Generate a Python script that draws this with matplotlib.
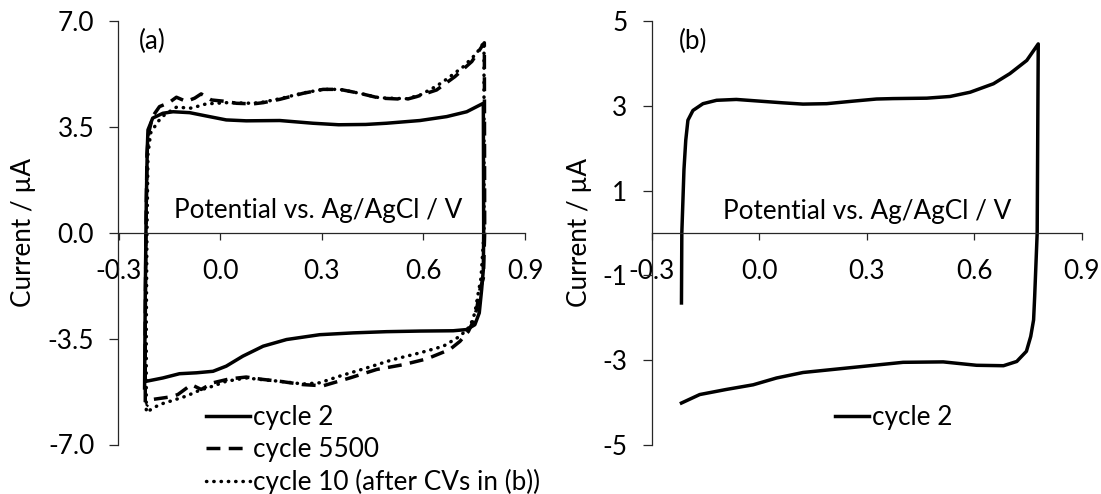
import matplotlib
matplotlib.use("Agg")
import matplotlib.pyplot as plt

plt.rcParams['font.family'] = ['Lato', 'DejaVu Sans']

# ---------------- data: panel (a) ----------------
a_c2_x = [-0.223, -0.221, -0.218, -0.215, -0.213, -0.199, -0.169, -0.139, -0.090, -0.041,
          0.018, 0.077, 0.176, 0.274, 0.350, 0.430, 0.491, 0.590, 0.669, 0.728, 0.777,
          0.778, 0.777, 0.772, 0.765, 0.752, 0.728, 0.688, 0.590, 0.491, 0.393, 0.294,
          0.196, 0.127, 0.067, 0.018, -0.021, -0.070, -0.120, -0.169, -0.218]
a_c2_y = [-5.13, -2.00, 1.00, 2.80, 3.40, 3.79, 3.95, 4.00, 3.97, 3.86,
          3.73, 3.70, 3.71, 3.62, 3.57, 3.58, 3.62, 3.71, 3.84, 4.00, 4.28,
          0.00, -1.22, -1.88, -2.65, -3.04, -3.20, -3.24, -3.25, -3.27, -3.31, -3.37,
          -3.53, -3.75, -4.08, -4.41, -4.58, -4.63, -4.66, -4.80, -4.91]

a_c5500_x = [-0.221, -0.221, -0.219, -0.216, -0.211, -0.199, -0.179, -0.151, -0.129, -0.100,
             -0.075, -0.056, -0.026, 0.018, 0.048, 0.097, 0.127, 0.176, 0.245, 0.304,
             0.353, 0.412, 0.471, 0.550, 0.580, 0.639, 0.693, 0.743, 0.780,
             0.781, 0.777, 0.767, 0.757, 0.747, 0.733, 0.708, 0.678, 0.610, 0.541,
             0.462, 0.383, 0.304, 0.245, 0.176, 0.127, 0.077, 0.028, -0.021, -0.056,
             -0.085, -0.125, -0.149, -0.199, -0.218]
a_c5500_y = [-5.60, -3.00, 0.00, 2.60, 3.30, 3.85, 4.17, 4.30, 4.48, 4.34,
             4.45, 4.59, 4.39, 4.34, 4.28, 4.26, 4.30, 4.41, 4.61, 4.74,
             4.74, 4.61, 4.45, 4.41, 4.50, 4.72, 5.16, 5.66, 6.28,
             0.00, -1.50, -1.88, -2.54, -2.93, -3.26, -3.59, -3.86, -4.17, -4.36,
             -4.52, -4.80, -5.06, -5.02, -4.91, -4.85, -4.77, -4.83, -4.96, -5.18,
             -5.02, -5.35, -5.43, -5.51, -5.73]

a_c10_x = [-0.218, -0.218, -0.216, -0.213, -0.205, -0.184, -0.164, -0.129, -0.085, -0.041,
           0.018, 0.097, 0.127, 0.176, 0.245, 0.304, 0.353, 0.412, 0.471, 0.550,
           0.590, 0.639, 0.669, 0.718, 0.757, 0.779,
           0.779, 0.770, 0.762, 0.752, 0.738, 0.708, 0.659, 0.590, 0.511, 0.432,
           0.353, 0.294, 0.245, 0.176, 0.127, 0.077, 0.018, -0.021, -0.061, -0.100,
           -0.139, -0.179, -0.213]
a_c10_y = [-5.85, -3.00, 0.00, 2.60, 3.30, 3.67, 3.90, 4.15, 4.12, 4.26,
           4.30, 4.28, 4.32, 4.43, 4.62, 4.74, 4.74, 4.61, 4.46, 4.43,
           4.55, 4.85, 5.08, 5.49, 5.93, 6.30,
           0.00, -1.50, -1.99, -2.65, -3.09, -3.42, -3.75, -3.97, -4.19, -4.47,
           -4.74, -4.96, -5.00, -4.91, -4.86, -4.80, -4.91, -5.07, -5.21, -5.40,
           -5.54, -5.68, -5.90]

# ---------------- data: panel (b) ----------------
b_c2_x = [-0.217, -0.216, -0.210, -0.205, -0.199, -0.185, -0.157, -0.119, -0.064, 0.001,
          0.066, 0.122, 0.188, 0.262, 0.327, 0.373, 0.467, 0.532, 0.588, 0.653,
          0.699, 0.746, 0.778,
          0.775, 0.768, 0.765, 0.757, 0.745, 0.718, 0.681, 0.606, 0.513, 0.401,
          0.308, 0.215, 0.122, 0.048, -0.017, -0.092, -0.166, -0.217]
b_c2_y = [-1.65, 0.00, 1.50, 2.19, 2.66, 2.89, 3.05, 3.13, 3.15, 3.11,
          3.07, 3.04, 3.05, 3.11, 3.16, 3.17, 3.18, 3.22, 3.32, 3.52,
          3.76, 4.07, 4.46,
          0.00, -1.50, -2.05, -2.44, -2.79, -3.03, -3.13, -3.12, -3.04, -3.05,
          -3.13, -3.21, -3.29, -3.42, -3.58, -3.69, -3.81, -4.01]

x_ticks = [-0.3, 0.0, 0.3, 0.6, 0.9]
x_ticklabels = ['-0.3', '0.0', '0.3', '0.6', '0.9']
a_y_ticks = [-7.0, -3.5, 0.0, 3.5, 7.0]
a_y_ticklabels = ['-7.0', '-3.5', '0.0', '3.5', '7.0']
b_y_ticks = [-5, -3, -1, 1, 3, 5]
b_y_ticklabels = ['-5', '-3', '-1', '1', '3', '5']

xlabel = 'Potential vs. Ag/AgCl / V'
ylabel = 'Current / µA'
a_legend = ['cycle 2', 'cycle 5500', 'cycle 10 (after CVs in (b))']
b_legend = ['cycle 2']

W, H = 1101, 494
fig = plt.figure(figsize=(W / 100, H / 100), dpi=100)

FS = 18.8
AX_COLOR = '#262626'
LW = 2.5


def px_axes(left, right, top, bottom):
    return [left / W, 1 - bottom / H, (right - left) / W, (bottom - top) / H]


def style_axes(ax, yticks, yticklabels, ylim):
    ax.set_xlim(-0.3, 0.9)
    ax.set_ylim(*ylim)
    for s in ['top', 'right']:
        ax.spines[s].set_visible(False)
    ax.spines['bottom'].set_position(('data', 0))
    ax.spines['left'].set_color(AX_COLOR)
    ax.spines['bottom'].set_color(AX_COLOR)
    ax.spines['left'].set_linewidth(0.9)
    ax.spines['bottom'].set_linewidth(0.9)
    ax.set_xticks(x_ticks)
    ax.set_xticklabels(x_ticklabels)
    ax.set_yticks(yticks)
    ax.set_yticklabels(yticklabels)
    ax.tick_params(axis='x', direction='out', length=5, width=0.9, color=AX_COLOR,
                   pad=14, labelsize=FS)
    ax.tick_params(axis='y', direction='out', length=6.5, width=0.9, color=AX_COLOR,
                   pad=11, labelsize=FS)
    ax.patch.set_visible(False)


# ---------- panel (a) ----------
axa = fig.add_axes(px_axes(118.5, 525, 21, 444.5))
la1, = axa.plot(a_c2_x, a_c2_y, color='black', lw=LW, solid_joinstyle='round')
la2, = axa.plot(a_c5500_x, a_c5500_y, color='black', lw=LW, linestyle=(0, (4.0, 2.4)))
la3, = axa.plot(a_c10_x, a_c10_y, color='black', lw=LW, linestyle=(0, (0.1, 2.0)),
                dash_capstyle='round')
style_axes(axa, a_y_ticks, a_y_ticklabels, (-7, 7))
axa.text(152 / W, 1 - 41 / H, '(a)', transform=fig.transFigure, fontsize=FS,
         ha='center', va='center')
axa.text(318 / W, 1 - 210 / H, xlabel, transform=fig.transFigure, fontsize=FS,
         ha='center', va='center')
fig.text(24 / W, 1 - 232 / H, ylabel, rotation=90, fontsize=FS, ha='center', va='center')
axa.legend([la1, la2, la3], a_legend,
           loc='upper left', bbox_to_anchor=(206 / W, 1 - 405 / H),
           bbox_transform=fig.transFigure, frameon=False, fontsize=FS,
           handlelength=1.7, handletextpad=0.1, borderpad=0, borderaxespad=0,
           labelspacing=0.27)

# ---------- panel (b) ----------
axb = fig.add_axes(px_axes(651.7, 1082, 21, 445))
lb1, = axb.plot(b_c2_x, b_c2_y, color='black', lw=LW, solid_joinstyle='round')
style_axes(axb, b_y_ticks, b_y_ticklabels, (-5, 5))
axb.text(693 / W, 1 - 41 / H, '(b)', transform=fig.transFigure, fontsize=FS,
         ha='center', va='center')
axb.text(867 / W, 1 - 211 / H, xlabel, transform=fig.transFigure, fontsize=FS,
         ha='center', va='center')
fig.text(579 / W, 1 - 232 / H, ylabel, rotation=90, fontsize=FS, ha='center', va='center')
axb.legend([lb1], b_legend, loc='upper left', bbox_to_anchor=(835 / W, 1 - 405 / H),
           bbox_transform=fig.transFigure, frameon=False, fontsize=FS,
           handlelength=1.3, handletextpad=0.1, borderpad=0, borderaxespad=0)

fig.savefig('out.png', dpi=100)
